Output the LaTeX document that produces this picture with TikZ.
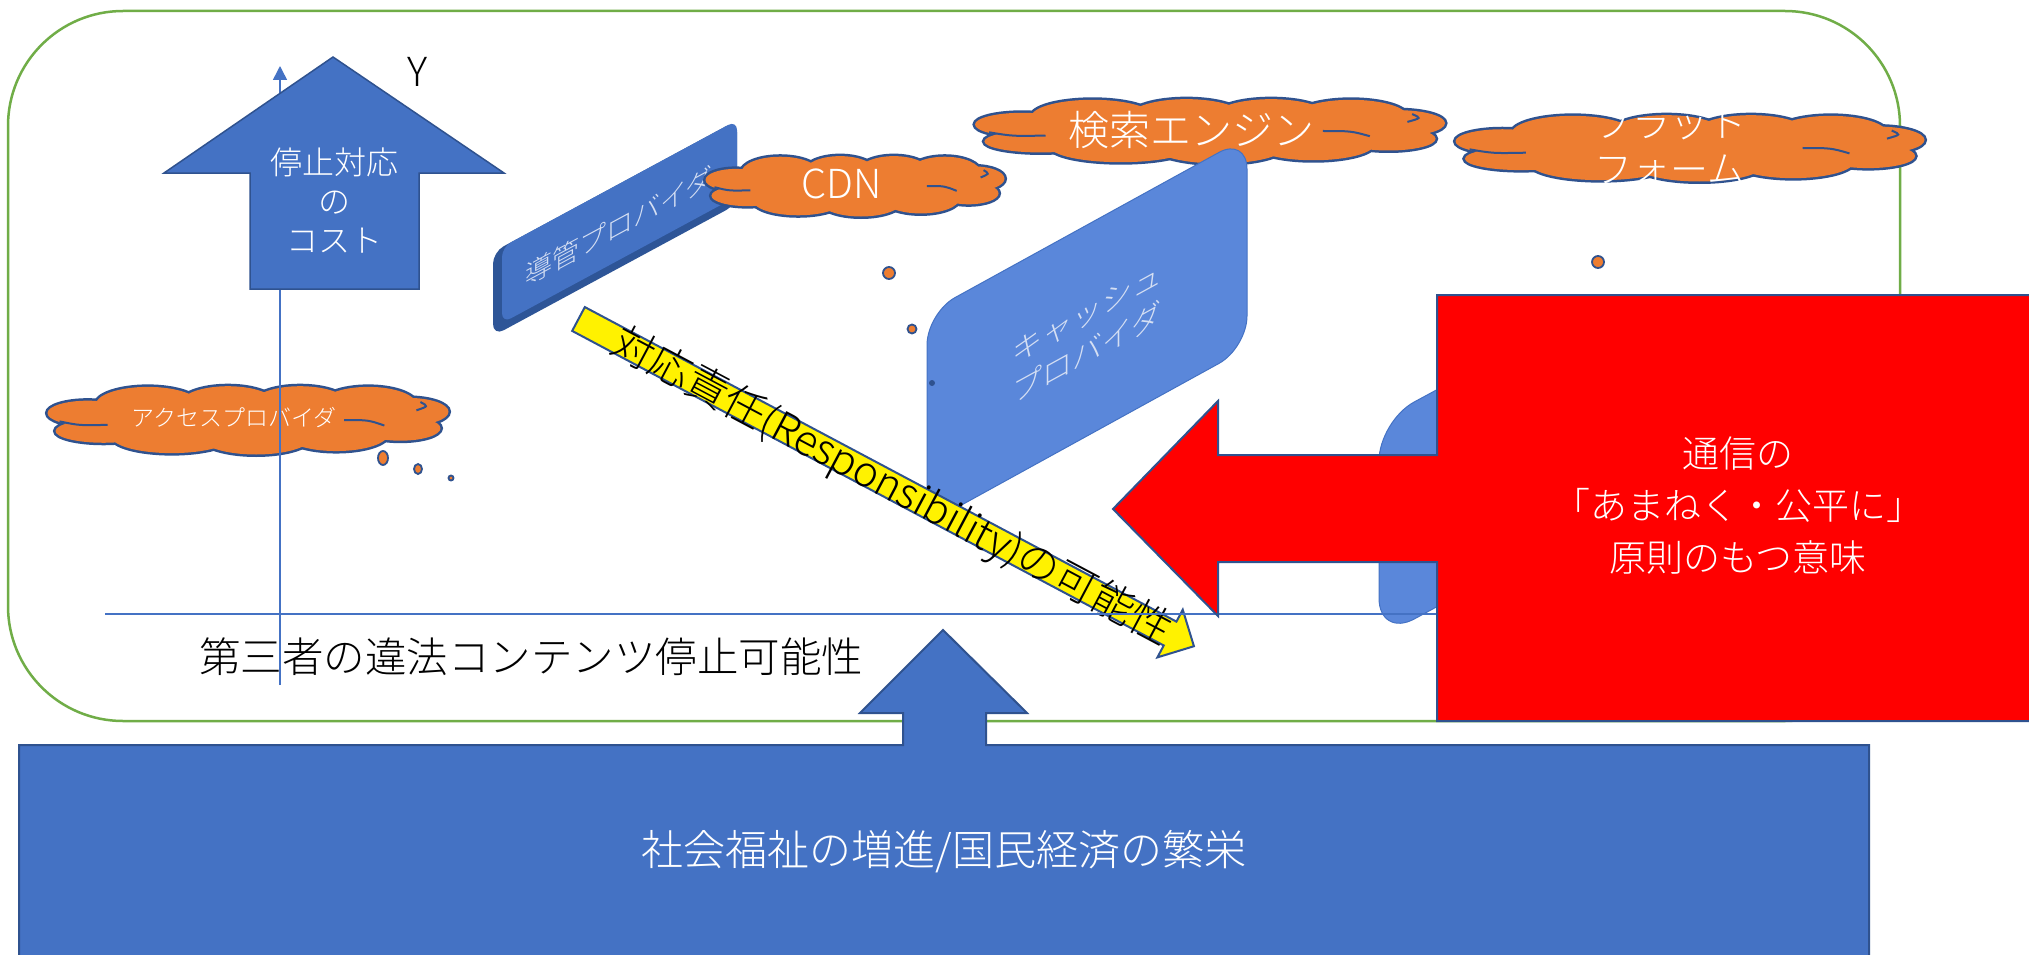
\documentclass[tikz,border=0pt]{standalone}
\usepackage{fontspec}
\setmainfont{Noto Sans CJK JP}[UprightFont={* Light}]
\usetikzlibrary{arrows.meta}
\definecolor{pblue}{HTML}{4472C4}
\definecolor{dblue}{HTML}{2F528F}
\definecolor{lblue}{HTML}{5A87DA}
\definecolor{porange}{HTML}{ED7D31}
\definecolor{pgreen}{HTML}{70AD47}
\definecolor{bevel}{HTML}{2E5597}
\definecolor{facetxt}{HTML}{D5DFF3}
\newcommand{\fsz}[2]{\fontsize{#1pt}{#2pt}\selectfont}
\newcommand{\puffs}{0.25/0.28/0.13/0.26, 0.45/0.27/0.12/0.26, 0.63/0.27/0.12/0.26,
  0.80/0.28/0.12/0.26, 0.10/0.40/0.10/0.18, 0.14/0.66/0.12/0.17, 0.31/0.74/0.15/0.24,
  0.52/0.74/0.14/0.26, 0.72/0.70/0.13/0.25, 0.90/0.38/0.10/0.20, 0.88/0.62/0.10/0.18,
  0.50/0.50/0.38/0.30}
% cloud made of overlapping puffs: #1 centre x, #2 centre y, #3 width, #4 height
\newcommand{\puffcloud}[4]{%
  \begin{scope}[shift={(#1-#3/2,#2-#4/2)}, x=#3pt, y=-#4pt]
    \foreach \u/\v/\a/\b in \puffs
      \draw[dblue, line width=5pt] (\u,\v) ellipse [x radius=\a, y radius=\b];
    \foreach \u/\v/\a/\b in \puffs
      \fill[porange] (\u,\v) ellipse [x radius=\a, y radius=\b];
    \draw[dblue, line width=2pt] (0.03,0.52) .. controls (0.08,0.58) .. (0.15,0.57);
    \draw[dblue, line width=2pt] (0.74,0.50) .. controls (0.80,0.50) .. (0.84,0.58);
    \draw[dblue, line width=2pt] (0.93,0.24) .. controls (0.95,0.30) .. (0.92,0.36);
  \end{scope}%
}
\tikzset{
  thoughtdot/.style={draw=dblue, line width=1.8pt, fill=porange},
  wtext/.style={text=white, inner sep=0pt},
  btext/.style={text=black, inner sep=0pt},
  axisline/.style={draw=pblue, line width=1.5pt},
  bluearrow/.style={fill=pblue, draw=dblue, line width=1.5pt},
}
\begin{document}
\begin{tikzpicture}[x=1pt,y=-1pt]
\useasboundingbox (0,0) rectangle (2029,955);
\clip (0,0) rectangle (2029,955);
\fill[white] (0,0) rectangle (2029,955);

% frame
\draw[pgreen, line width=2.5pt, rounded corners=115pt] (8,11) rectangle (1900,721);

% access provider cloud
\coordinate (access) at (248,420);
\puffcloud{248}{420}{401}{69}
\node[wtext, font=\fsz{23}{28}] (accesst) at (234,418) {アクセスプロバイダ};
\draw[thoughtdot] (383,458) ellipse [x radius=5, y radius=7];
\draw[thoughtdot] (418,469) ellipse [x radius=4, y radius=5];
\draw[thoughtdot] (451,478) circle [radius=2.5];

% conduit provider (bevelled plate)
\begin{scope}[shift={(493,252)}, yslant=0.54]
  \fill[bevel, rounded corners=12pt] (0,0) rectangle (244,84);
  \fill[pblue, rounded corners=10pt] (9,0) rectangle (244,76);
  \node[text=facetxt, inner sep=0pt, font=\fsz{27}{32}, transform shape] (kan) at (126,42) {導管プロバイダ};
\end{scope}

% CDN cloud
\coordinate (cdn) at (855,186);
\puffcloud{855}{186}{299}{61}
\node[wtext, font=\fsz{40}{48}] (cdnt) at (842,184) {CDN};
\draw[thoughtdot] (889,273) circle [radius=6];
\draw[thoughtdot] (912,329) circle [radius=4.5];

% search engine cloud
\coordinate (search) at (1210,131);
\puffcloud{1210}{131}{470}{65}
\node[wtext, font=\fsz{41}{48}] (searcht) at (1191,130) {検索エンジン};

% cache provider plate
\begin{scope}[shift={(927,313)}, yslant=0.55]
  \filldraw[fill=lblue, draw=pblue, line width=1pt, rounded corners=32pt] (0,0) rectangle (320,211);
  \node[text=facetxt, inner sep=0pt, font=\fsz{30}{40}, align=center, transform shape] (cache) at (160,108) {キャッシュ\\プロバイダ};
\end{scope}
\fill[dblue] (932,383) circle [radius=3];

% platform provider plate (mostly hidden)
\begin{scope}[shift={(1379,421)}, yslant=0.54]
  \filldraw[fill=lblue, draw=pblue, line width=1pt, rounded corners=40pt] (0,0) rectangle (211,217);
\end{scope}

% platform cloud
\coordinate (plat) at (1690,148);
\puffcloud{1690}{148}{469}{67}
\node[wtext, font=\fsz{38}{46}, align=center] (platt) at (1670,146) {プラット\\フォーム};
\draw[thoughtdot] (1598,262) circle [radius=6];

% responsibility arrow
\begin{scope}[shift={(578.5,319)}, rotate=-28]
  \filldraw[fill=yellow, draw=dblue, line width=2pt] (0,-13.5) -- (670,-13.5) -- (670,-27) -- (697,0) -- (670,27) -- (670,13.5) -- (0,13.5) -- cycle;
  \node[btext, font=\fsz{42}{48}, transform shape] (resp) at (355,2) {対応責任(Responsibility)の可能性};
\end{scope}

% axes
\coordinate (yaxb) at (280,685);
\coordinate (yaxt) at (280,66);
\coordinate (xaxl) at (105,614);
\coordinate (xaxr) at (1500,614);
\draw[axisline, -{Triangle[width=14pt,length=14pt]}] (yaxb) -- (yaxt);
\draw[axisline] (xaxl) -- (xaxr);

% cost arrow
\filldraw[bluearrow] (333,57) -- (504,173) -- (419,173) -- (419,289) -- (250,289) -- (250,173) -- (164,173) -- cycle;
\node[wtext, font=\fsz{32}{39}, align=center] (cost) at (334,200) {停止対応\\の\\コスト};
\node[btext, font=\fsz{40}{48}] (ylab) at (418,72) {Y};

% x axis label
\node[btext, font=\fsz{41.5}{48}] (third) at (531,657) {第三者の違法コンテンツ停止可能性};

% red callout
\filldraw[fill=red, draw=dblue, line width=2pt] (1437,295) -- (2040,295) -- (2040,721) -- (1437,721) -- (1437,562) -- (1218,562) -- (1218,616) -- (1113,509) -- (1218,401) -- (1218,455) -- (1437,455) -- cycle;
\node[wtext, font=\fsz{37}{52}, align=center] (principle) at (1738,506) {通信の\\「あまねく・公平に」\\原則のもつ意味};

% bottom callout
\filldraw[bluearrow, line width=2pt] (19,745) -- (903,745) -- (903,713) -- (860,713) -- (943,630) -- (1027,713) -- (986,713) -- (986,745) -- (1869,745) -- (1869,965) -- (19,965) -- cycle;
\node[wtext, font=\fsz{42}{48}] (welfare) at (944,852) {社会福祉の増進/国民経済の繁栄};
\end{tikzpicture}
\end{document}
